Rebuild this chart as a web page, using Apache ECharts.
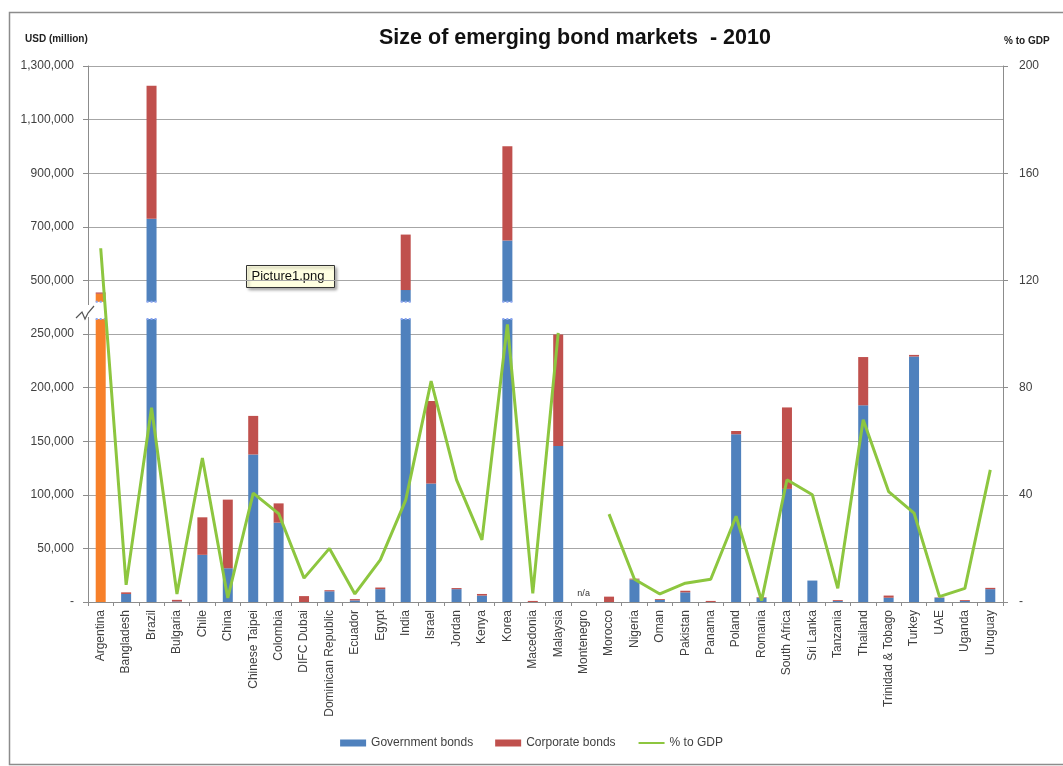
<!DOCTYPE html>
<html>
<head>
<meta charset="utf-8">
<title>Size of emerging bond markets - 2010</title>
<script src="https://cdn.jsdelivr.net/npm/echarts@6.0.0/dist/echarts.min.js"></script>
<style>
  html, body { margin: 0; padding: 0; background: #fff; }
  #main { width: 1063px; height: 766px; }
</style>
</head>
<body>
<div id="main"></div>
<script>
// data (USD million, % of GDP)
const categories = ['Argentina', 'Bangladesh', 'Brazil', 'Bulgaria', 'Chile', 'China', 'Chinese Taipei', 'Colombia',
  'DIFC Dubai', 'Dominican Republic', 'Ecuador', 'Egypt', 'India', 'Israel', 'Jordan', 'Kenya', 'Korea', 'Macedonia',
  'Malaysia', 'Montenegro', 'Morocco', 'Nigeria', 'Oman', 'Pakistan', 'Panama', 'Poland', 'Romania', 'South Africa',
  'Sri Lanka', 'Tanzania', 'Thailand', 'Trinidad & Tobago', 'Turkey', 'UAE', 'Uganda', 'Uruguay'];

const govBonds = [450000, 7500, 730000, 500, 44000, 31500, 137600, 74000,
  0, 10000, 1500, 12000, 464000, 110500, 12000, 6000, 649000, 0,
  145500, 0, 0, 21000, 2000, 9000, 0, 156500, 4000, 105500,
  20000, 1000, 183500, 4000, 229000, 4000, 1000, 12000];

const corpBonds = [5000, 1500, 496000, 1500, 35000, 64000, 36000, 18000,
  5500, 1000, 1200, 1500, 207000, 77000, 1000, 1500, 352000, 1000,
  104000, 0, 5000, 800, 800, 1500, 1000, 3000, 500, 76000,
  0, 800, 45000, 2000, 1500, 300, 800, 1200];

const pctGDP = [132, 6.4, 72.5, 3, 53.7, 1.5, 40.6, 33,
  8.9, 20, 3, 15.7, 38, 82.4, 45.6, 23.2, 103.6, 3.2,
  100.4, null, 32.8, 8.5, 3, 7, 8.5, 32, 0.5, 45.6,
  40, 5.1, 68, 41.2, 33.2, 2, 5.1, 49.3];

const notAvailable = ['Montenegro'];
const highlighted = ['Argentina'];

// broken left axis: 0-250,000 linear, then 300,000-1,300,000 squeezed by 4
const LOW_MAX = 250000;
const HIGH_START = 300000;
const SQUEEZE = 4;
function toAxis (v) {
  if (v <= LOW_MAX) return v;
  return LOW_MAX + Math.max(0, v - HIGH_START) / SQUEEZE;
}
function fromAxis (d) {
  if (d <= LOW_MAX) return d;
  return HIGH_START + (d - LOW_MAX) * SQUEEZE;
}
function fmt (n) {
  if (n === 0) return '-';
  return String(Math.round(n)).replace(/\B(?=(\d{3})+(?!\d))/g, ',');
}

const govAxis = govBonds.map(v => toAxis(v));
const corpAxis = corpBonds.map((v, i) => toAxis(govBonds[i] + v) - toAxis(govBonds[i]));
const breakItems = categories
  .map((c, i) => [i, govBonds[i] + corpBonds[i]])
  .filter(d => d[1] > HIGH_START);

const FONT = "'Liberation Sans', Arial, sans-serif";
const TEXT = '#404040';

const myChart = echarts.init(document.getElementById('main'));
myChart.setOption({
  backgroundColor: '#fff',
  animation: false,
  textStyle: { fontFamily: FONT },
  title: {
    text: 'Size of emerging bond markets  - 2010',
    left: 374,
    top: 22,
    textStyle: { fontSize: 21.5, fontWeight: 'bold', color: '#111', fontFamily: FONT }
  },
  legend: {
    bottom: 12,
    left: 'center',
    itemWidth: 26,
    itemHeight: 7,
    itemGap: 22,
    textStyle: { fontSize: 12, color: TEXT },
    data: [
      { name: 'Government bonds', icon: 'rect' },
      { name: 'Corporate bonds', icon: 'rect' },
      { name: '% to GDP', itemStyle: { opacity: 0 } }
    ]
  },
  grid: { left: 88, right: 60, top: 66, bottom: 164 },
  xAxis: {
    type: 'category',
    data: categories,
    boundaryGap: true,
    axisLine: { lineStyle: { color: '#8c8c8c' } },
    axisTick: { show: true, alignWithLabel: false, length: 4, lineStyle: { color: '#8c8c8c' } },
    axisLabel: { rotate: 90, interval: 0, fontSize: 12, color: TEXT, margin: 8 }
  },
  yAxis: [
    {
      type: 'value',
      min: 0,
      max: toAxis(1300000),
      interval: 50000,
      axisLine: { show: true, lineStyle: { color: '#8c8c8c' } },
      axisTick: { show: true, length: 5, lineStyle: { color: '#8c8c8c' } },
      axisLabel: { fontSize: 12, color: TEXT, margin: 14, formatter: d => fmt(fromAxis(d)) },
      splitLine: { lineStyle: { color: '#a6a6a6', width: 1.2 } }
    },
    {
      type: 'value',
      min: 0,
      max: 200,
      interval: 40,
      axisLine: { show: true, lineStyle: { color: '#8c8c8c' } },
      axisTick: { show: true, length: 5, lineStyle: { color: '#8c8c8c' } },
      axisLabel: { fontSize: 12, color: TEXT, margin: 16, formatter: v => (v === 0 ? '-' : v) },
      splitLine: { show: false }
    }
  ],
  series: [
    {
      name: 'Government bonds',
      type: 'bar',
      stack: 'total',
      barWidth: 10,
      z: 2,
      itemStyle: { color: '#4f81bd' },
      data: govAxis.map((v, i) => {
        const item = { value: v };
        if (highlighted.includes(categories[i])) item.itemStyle = { color: '#f7802a' };
        if (notAvailable.includes(categories[i])) {
          item.label = { show: true, position: 'top', formatter: 'n/a', fontSize: 9, color: '#333', distance: 4 };
        }
        return item;
      })
    },
    {
      name: 'Corporate bonds',
      type: 'bar',
      stack: 'total',
      barWidth: 10,
      z: 2,
      itemStyle: { color: '#c0504d' },
      data: corpAxis
    },
    {
      // white gap with dashed edges where a bar crosses the axis break
      name: 'break',
      type: 'custom',
      z: 3,
      silent: true,
      data: breakItems,
      renderItem: function (params, api) {
        const idx = api.value(0);
        const top = api.coord([idx, 280000]);
        const bot = api.coord([idx, 264000]);
        const w = 14;
        const edge = { stroke: '#8aa4f0', lineWidth: 2, lineDash: [2, 2] };
        return {
          type: 'group',
          children: [
            { type: 'rect', shape: { x: top[0] - w / 2, y: top[1], width: w, height: bot[1] - top[1] }, style: { fill: '#fff' } },
            { type: 'line', shape: { x1: top[0] - 5, y1: top[1], x2: top[0] + 5, y2: top[1] }, style: edge },
            { type: 'line', shape: { x1: bot[0] - 5, y1: bot[1], x2: bot[0] + 5, y2: bot[1] }, style: edge }
          ]
        };
      }
    },
    {
      name: '% to GDP',
      type: 'line',
      yAxisIndex: 1,
      z: 4,
      symbol: 'none',
      connectNulls: false,
      lineStyle: { color: '#8dc63f', width: 3 },
      itemStyle: { color: '#8dc63f' },
      data: pctGDP
    }
  ],
  graphic: [
    // outer frame
    { type: 'rect', left: 7, top: 10, shape: { width: 1070, height: 752 }, style: { fill: 'none', stroke: '#8c8c8c', lineWidth: 1.5 }, z: -1 },
    { type: 'text', left: 25, top: 34, style: { text: 'USD (million)', fontSize: 10, fontWeight: 'bold', fill: '#222', fontFamily: FONT } },
    { type: 'text', left: 1004, top: 36, style: { text: '% to GDP', fontSize: 10, fontWeight: 'bold', fill: '#222', fontFamily: FONT } },
    // break mark on the left axis
    { type: 'rect', left: 85, top: 305, shape: { width: 6, height: 12 }, style: { fill: '#fff' }, z: 10 },
    {
      type: 'polyline',
      z: 11,
      shape: { points: [[76, 318], [82, 312], [85, 319], [88, 313], [94, 306]] },
      style: { stroke: '#555', lineWidth: 1.2, fill: 'none' }
    },
    // leftover image tooltip
    {
      type: 'group',
      left: 246,
      top: 265,
      z: 20,
      children: [
        { type: 'rect', shape: { x: 0, y: 0, width: 88, height: 22 }, style: { fill: '#ffffe1', stroke: '#333', lineWidth: 1, shadowBlur: 3, shadowOffsetX: 2, shadowOffsetY: 2, shadowColor: 'rgba(0,0,0,0.35)' } },
        { type: 'text', x: 5, y: 4, style: { text: 'Picture1.png', fontSize: 13, fill: '#111', fontFamily: FONT } }
      ]
    }
  ]
});
</script>
</body>
</html>
